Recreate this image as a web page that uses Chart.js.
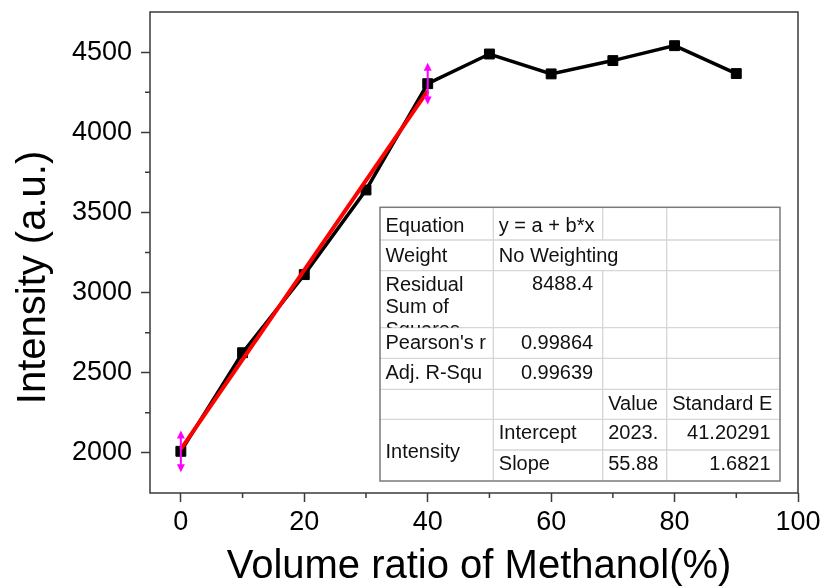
<!DOCTYPE html>
<html>
<head>
<meta charset="utf-8">
<title>Intensity vs. volume ratio of methanol</title>
<script src="https://cdn.jsdelivr.net/npm/chart.js@4.4.1/dist/chart.umd.min.js"></script>
<style>
  html, body { margin: 0; padding: 0; background: #fff; overflow: hidden; }
  #wrap { position: relative; width: 822px; height: 586px; }
</style>
</head>
<body>
<div id="wrap"><canvas id="c" width="822" height="586"></canvas></div>
<script>
// ---- data ----
const volumeRatio = [0, 10, 20, 30, 40, 50, 60, 70, 80, 90];
const intensity = [2010, 2625, 3112, 3640, 4303, 4488, 4364, 4447, 4540, 4366];

// linear fit y = a + b*x over the selected range
const fitIntercept = 2023;
const fitSlope = 55.88;
const fitRange = [0, 40];
const rangeMarkerHalfHeight = 130;

// axis ticks
const xMajorTicks = [0, 20, 40, 60, 80, 100];
const xMinorTicks = [10, 30, 50, 70, 90];
const yMajorTicks = [2000, 2500, 3000, 3500, 4000, 4500];
const yMinorTicks = [2250, 2750, 3250, 3750, 4250];

const xTitle = 'Volume ratio of Methanol(%)';
const yTitle = 'Intensity (a.u.)';

// fit report table
const tableEquation = ['Equation', 'y = a + b*x'];
const tableWeight = ['Weight', 'No Weighting'];
const tableResidual = [['Residual', 'Sum of', 'Squares'], '8488.4'];
const tablePearson = ["Pearson's r", '0.99864'];
const tableAdjR = ['Adj. R-Squ', '0.99639'];
const tableHeader = ['Value', 'Standard E'];
const tableGroup = 'Intensity';
const tableParams = [
  ['Intercept', fitIntercept.toFixed(0) + '.', '41.20291'],
  ['Slope', fitSlope.toFixed(2), '1.6821']
];

// ---- drawing ----
const FONT = 'Arial, "Liberation Sans", sans-serif';
const AXIS_COLOR = '#3a3a3a';

const fitPoints = fitRange.map(x => ({ x: x, y: fitIntercept + fitSlope * x }));
const seriesPoints = volumeRatio.map((x, i) => ({ x: x, y: intensity[i] }));

// magenta arrows marking the ends of the fitted range
const rangeMarkerPlugin = {
  id: 'rangeMarkers',
  afterDatasetsDraw(chart) {
    const { ctx, scales: { x: xs, y: ys } } = chart;
    ctx.save();
    ctx.strokeStyle = '#ff00ff';
    ctx.fillStyle = '#ff00ff';
    ctx.lineWidth = 2;
    fitRange.forEach(xv => {
      const yv = intensity[volumeRatio.indexOf(xv)];
      const px = xs.getPixelForValue(xv);
      const top = ys.getPixelForValue(yv + rangeMarkerHalfHeight);
      const bot = ys.getPixelForValue(yv - rangeMarkerHalfHeight);
      ctx.beginPath();
      ctx.moveTo(px, top + 4);
      ctx.lineTo(px, bot - 4);
      ctx.stroke();
      ctx.beginPath();
      ctx.moveTo(px, top);
      ctx.lineTo(px - 4, top + 8);
      ctx.lineTo(px + 4, top + 8);
      ctx.closePath();
      ctx.fill();
      ctx.beginPath();
      ctx.moveTo(px, bot);
      ctx.lineTo(px - 4, bot - 8);
      ctx.lineTo(px + 4, bot - 8);
      ctx.closePath();
      ctx.fill();
    });
    ctx.restore();
  }
};

// box frame, minor ticks and axis titles
const framePlugin = {
  id: 'frame',
  afterDraw(chart) {
    const { ctx, chartArea: a, scales: { x: xs, y: ys } } = chart;
    ctx.save();
    ctx.strokeStyle = AXIS_COLOR;
    ctx.lineWidth = 1.5;
    ctx.strokeRect(a.left, a.top, a.right - a.left, a.bottom - a.top);
    ctx.beginPath();
    xMinorTicks.forEach(v => {
      const px = xs.getPixelForValue(v);
      ctx.moveTo(px, a.bottom);
      ctx.lineTo(px, a.bottom + 5);
    });
    yMinorTicks.forEach(v => {
      const py = ys.getPixelForValue(v);
      ctx.moveTo(a.left - 5, py);
      ctx.lineTo(a.left, py);
    });
    ctx.stroke();

    ctx.fillStyle = '#000';
    ctx.font = '40px ' + FONT;
    ctx.textAlign = 'center';
    ctx.textBaseline = 'alphabetic';
    ctx.fillText(xTitle, 479, 578);
    ctx.translate(45, 277.5);
    ctx.rotate(-Math.PI / 2);
    ctx.fillText(yTitle, 0, 0);
    ctx.restore();
  }
};

// fit report table laid over the plot
const tablePlugin = {
  id: 'fitTable',
  afterDraw(chart) {
    const ctx = chart.ctx;
    const cols = [380, 493.3, 602.7, 666.7, 780];
    const rows = [207.3, 240, 270.7, 327.7, 358.3, 389.3, 419.3, 450, 481];
    ctx.save();
    ctx.fillStyle = '#fff';
    ctx.fillRect(cols[0], rows[0], cols[4] - cols[0], rows[8] - rows[0]);

    // inner grid
    ctx.strokeStyle = '#d6d6d6';
    ctx.lineWidth = 1.3;
    ctx.beginPath();
    for (let r = 1; r < 8; r++) {
      ctx.moveTo(r === 7 ? cols[1] : cols[0], rows[r]);
      ctx.lineTo(cols[4], rows[r]);
    }
    ctx.moveTo(cols[1], rows[0]); ctx.lineTo(cols[1], rows[8]);
    ctx.moveTo(cols[2], rows[0]); ctx.lineTo(cols[2], rows[1]);
    ctx.moveTo(cols[2], rows[2]); ctx.lineTo(cols[2], rows[8]);
    ctx.moveTo(cols[3], rows[0]); ctx.lineTo(cols[3], rows[8]);
    ctx.stroke();

    // outer border
    ctx.strokeStyle = '#7a7a7a';
    ctx.lineWidth = 1.5;
    ctx.strokeRect(cols[0], rows[0], cols[4] - cols[0], rows[8] - rows[0]);

    ctx.fillStyle = '#111';
    ctx.font = '20px ' + FONT;
    ctx.textBaseline = 'alphabetic';
    const left = (s, c, y) => { ctx.textAlign = 'left'; ctx.fillText(s, cols[c] + 5.5, y); };
    const right = (s, c, y) => { ctx.textAlign = 'right'; ctx.fillText(s, cols[c + 1] - 9.5, y); };

    left(tableEquation[0], 0, rows[0] + 24.4);
    left(tableEquation[1], 1, rows[0] + 24.4);
    left(tableWeight[0], 0, rows[1] + 22);
    left(tableWeight[1], 1, rows[1] + 22);

    ctx.save();
    ctx.beginPath();
    ctx.rect(cols[0], rows[2], cols[1] - cols[0], rows[3] - rows[2]);
    ctx.clip();
    tableResidual[0].forEach((line, i) => left(line, 0, rows[2] + 20 + i * 22.7));
    ctx.restore();
    right(tableResidual[1], 1, rows[2] + 19);

    left(tablePearson[0], 0, rows[3] + 21);
    right(tablePearson[1], 1, rows[3] + 21);
    left(tableAdjR[0], 0, rows[4] + 21);
    right(tableAdjR[1], 1, rows[4] + 21);
    left(tableHeader[0], 2, rows[5] + 20.5);
    left(tableHeader[1], 3, rows[5] + 20.5);

    left(tableGroup, 0, (rows[6] + rows[8]) / 2 + 8);
    tableParams.forEach((p, i) => {
      const y = rows[6 + i] + 20;
      left(p[0], 1, y);
      left(p[1], 2, y);
      right(p[2], 3, y);
    });
    ctx.restore();
  }
};

const tickFont = { family: FONT, size: 27 };

new Chart(document.getElementById('c'), {
  type: 'line',
  data: {
    datasets: [
      {
        label: 'Linear fit',
        data: fitPoints,
        borderColor: '#ff0000',
        borderWidth: 4,
        pointRadius: 0,
        order: 0
      },
      {
        label: 'Intensity',
        data: seriesPoints,
        borderColor: '#000',
        borderWidth: 3.5,
        pointStyle: 'rect',
        pointRadius: 7,
        pointBackgroundColor: '#000',
        pointBorderColor: '#000',
        pointBorderWidth: 1,
        order: 1
      }
    ]
  },
  options: {
    responsive: false,
    animation: false,
    events: [],
    layout: { padding: { top: 12, right: 24, left: 0, bottom: 0 } },
    plugins: { legend: { display: false }, tooltip: { enabled: false } },
    scales: {
      x: {
        type: 'linear',
        min: -5,
        max: 100,
        afterBuildTicks: s => { s.ticks = xMajorTicks.map(v => ({ value: v })); },
        afterFit: s => { s.height = 93; s.paddingLeft = 0; s.paddingRight = 0; },
        border: { display: false },
        grid: { drawOnChartArea: false, drawTicks: true, tickLength: 9, tickWidth: 1.5, tickColor: AXIS_COLOR },
        ticks: { font: tickFont, color: '#000', padding: 4, maxRotation: 0, autoSkip: false, callback: v => String(v) }
      },
      y: {
        type: 'linear',
        min: 1750,
        max: 4750,
        afterBuildTicks: s => { s.ticks = yMajorTicks.map(v => ({ value: v })); },
        afterFit: s => { s.width = 150; s.paddingTop = 0; s.paddingBottom = 0; },
        border: { display: false },
        grid: { drawOnChartArea: false, drawTicks: true, tickLength: 9, tickWidth: 1.5, tickColor: AXIS_COLOR },
        ticks: { font: tickFont, color: '#000', padding: 9, autoSkip: false, callback: v => String(v) }
      }
    }
  },
  plugins: [rangeMarkerPlugin, framePlugin, tablePlugin]
});
</script>
</body>
</html>
